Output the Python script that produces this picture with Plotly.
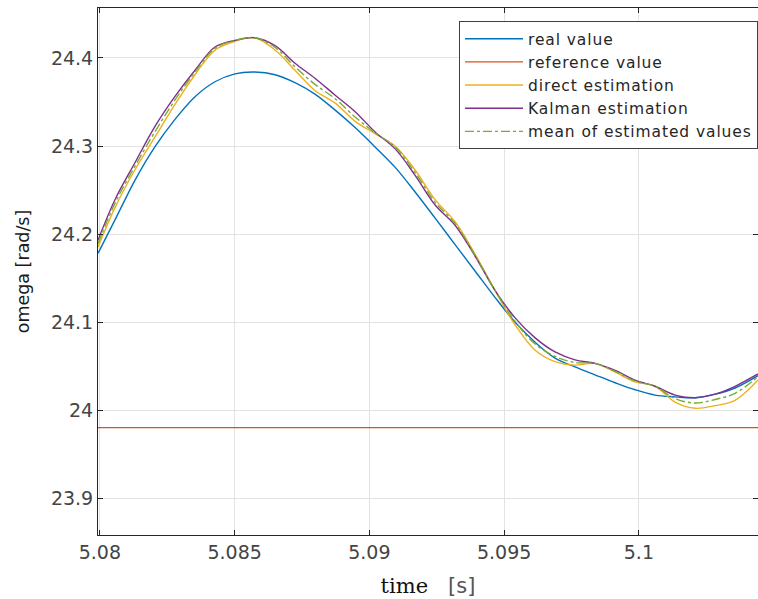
import plotly.graph_objects as go

# time samples (s)
t_px = [98,115,135,155,175,195,215,235,255,275,295,315,335,355,375,395,415,435,455,475,495,515,535,555,575,595,615,635,655,675,695,715,735,758]
time = [round(5.08 + (x - 100) / 26940, 5) for x in t_px]

real_value = [24.178,24.216,24.261,24.299,24.330,24.356,24.373,24.382,24.384,24.381,24.372,24.359,24.341,24.321,24.299,24.276,24.248,24.218,24.188,24.158,24.128,24.100,24.077,24.059,24.049,24.040,24.031,24.023,24.017,24.015,24.014,24.018,24.025,24.039]
kalman_est = [24.193,24.239,24.281,24.322,24.356,24.386,24.4125,24.420,24.423,24.414,24.394,24.377,24.358,24.339,24.316,24.297,24.267,24.233,24.210,24.175,24.136,24.105,24.082,24.066,24.057,24.053,24.045,24.034,24.027,24.017,24.014,24.018,24.027,24.041]
direct_est = [24.185,24.230,24.273,24.310,24.347,24.381,24.409,24.419,24.423,24.409,24.386,24.363,24.349,24.328,24.314,24.300,24.273,24.239,24.214,24.177,24.136,24.097,24.068,24.055,24.051,24.053,24.043,24.032,24.027,24.009,24.002,24.005,24.011,24.034]
mean_est = [24.189,24.235,24.277,24.316,24.352,24.384,24.411,24.420,24.423,24.412,24.390,24.370,24.354,24.333,24.315,24.299,24.270,24.236,24.212,24.176,24.136,24.101,24.075,24.061,24.054,24.053,24.044,24.033,24.027,24.013,24.008,24.012,24.019,24.038]
reference = 23.98

x_ticks = [5.08, 5.085, 5.09, 5.095, 5.1]
x_ticktext = ["5.08", "5.085", "5.09", "5.095", "5.1"]
y_ticks = [23.9, 24.0, 24.1, 24.2, 24.3, 24.4]
y_ticktext = ["23.9", "24", "24.1", "24.2", "24.3", "24.4"]

names = ["real value", "reference value", "direct estimation", "Kalman estimation", "mean of estimated values"]


def lbl(s):
    return "<span style='letter-spacing:0.9px'>" + s + "</span>"


fig = go.Figure()
fig.add_trace(go.Scatter(x=time, y=real_value, mode="lines", name=lbl(names[0]),
                         line=dict(color="#0072BD", width=1.4, shape="spline")))
fig.add_trace(go.Scatter(x=[time[0], time[-1]], y=[reference, reference], mode="lines", name=lbl(names[1]),
                         line=dict(color="#D95319", width=1.4)))
fig.add_trace(go.Scatter(x=time, y=direct_est, mode="lines", name=lbl(names[2]),
                         line=dict(color="#EDB120", width=1.4, shape="spline")))
fig.add_trace(go.Scatter(x=time, y=kalman_est, mode="lines", name=lbl(names[3]),
                         line=dict(color="#7E2F8E", width=1.4, shape="spline")))
fig.add_trace(go.Scatter(x=time, y=mean_est, mode="lines", name=lbl(names[4]),
                         line=dict(color="#77AC30", width=1.4, dash="dashdot", shape="spline")))

axis_common = dict(showline=True, linecolor="#262626", linewidth=1, mirror="ticks",
                   ticks="inside", ticklen=5, tickcolor="#262626",
                   showgrid=True, gridcolor="#e3e3e3", gridwidth=1, zeroline=False,
                   tickfont=dict(family="DejaVu Sans", size=19, color="#444444"))

fig.update_layout(
    width=758, height=599,
    margin=dict(l=98, r=0, t=8, b=64),
    paper_bgcolor="white", plot_bgcolor="white",
    showlegend=True,
    legend=dict(x=1, xanchor="right", y=0.975, yanchor="top",
                bgcolor="white", bordercolor="#404040", borderwidth=1,
                font=dict(family="DejaVu Sans", size=15.5, color="#262626"),
                itemwidth=58, tracegroupgap=0),
    xaxis=dict(range=[5.07993, 5.10442], tickvals=x_ticks, ticktext=x_ticktext,
               title=dict(text="time   <span style='font-family:DejaVu Sans;color:#555555'>[s]</span>",
                          standoff=16,
                          font=dict(family="DejaVu Serif", size=21, color="#111111")),
               **axis_common),
    yaxis=dict(range=[23.858, 24.4568], tickvals=y_ticks, ticktext=y_ticktext,
               title=dict(text="omega [rad/s]", standoff=16,
                          font=dict(family="DejaVu Sans", size=17.5, color="#1a1a1a")),
               **axis_common),
)

fig.write_html("out.html")
